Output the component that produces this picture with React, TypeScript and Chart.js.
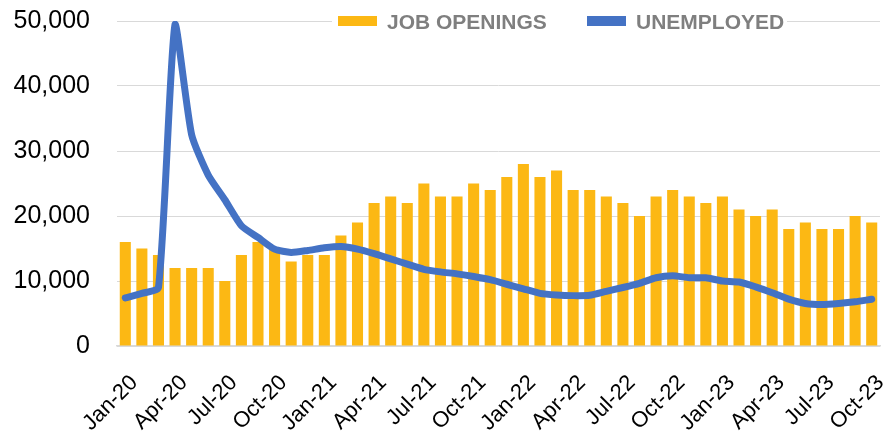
import React, { useEffect, useRef } from 'react';
import { Chart, registerables } from 'chart.js';

Chart.register(...registerables);

const categories = [
  'Jan-20', 'Feb-20', 'Mar-20', 'Apr-20', 'May-20', 'Jun-20', 'Jul-20', 'Aug-20', 'Sep-20', 'Oct-20', 'Nov-20', 'Dec-20',
  'Jan-21', 'Feb-21', 'Mar-21', 'Apr-21', 'May-21', 'Jun-21', 'Jul-21', 'Aug-21', 'Sep-21', 'Oct-21', 'Nov-21', 'Dec-21',
  'Jan-22', 'Feb-22', 'Mar-22', 'Apr-22', 'May-22', 'Jun-22', 'Jul-22', 'Aug-22', 'Sep-22', 'Oct-22', 'Nov-22', 'Dec-22',
  'Jan-23', 'Feb-23', 'Mar-23', 'Apr-23', 'May-23', 'Jun-23', 'Jul-23', 'Aug-23', 'Sep-23', 'Oct-23',
];

const jobOpenings = [
  16000, 15000, 14000, 12000, 12000, 12000, 10000, 14000, 16000, 15000, 13000, 14000,
  14000, 17000, 19000, 22000, 23000, 22000, 25000, 23000, 23000, 25000, 24000, 26000,
  28000, 26000, 27000, 24000, 24000, 23000, 22000, 20000, 23000, 24000, 23000, 22000,
  23000, 21000, 20000, 21000, 18000, 19000, 18000, 18000, 20000, 19000,
];

const unemployed = [
  7400, 8100, 9000, 49500, 32500, 26300, 22500, 18500, 16700, 14900, 14400, 14700,
  15100, 15300, 14900, 14200, 13400, 12600, 11800, 11400, 11100, 10700, 10200, 9500,
  8800, 8100, 7850, 7750, 7800, 8400, 9000, 9650, 10500, 10800, 10500, 10500,
  10000, 9850, 9100, 8200, 7200, 6550, 6400, 6550, 6800, 7200,
];

const yMin = 0;
const yMax = 50000;
const yStep = 10000;

const seriesNames = ['JOB OPENINGS', 'UNEMPLOYED'];
const seriesColors = ['#FCB814', '#4472C4'];

const FONT = '"Liberation Sans", Arial, sans-serif';

const legendPlugin = {
  id: 'topLegend',
  afterDraw(chart: any) {
    const ctx = chart.ctx;
    ctx.save();
    ctx.fillStyle = '#ffffff';
    ctx.fillRect(332, 10, 455, 24);
    const items = [
      { box: 338, text: 387, y: 16 },
      { box: 587, text: 636, y: 16 },
    ];
    ctx.font = `bold 21px ${FONT}`;
    ctx.textBaseline = 'middle';
    ctx.textAlign = 'left';
    items.forEach((it, i) => {
      ctx.fillStyle = seriesColors[i];
      ctx.fillRect(it.box, it.y, 39, 10);
      ctx.fillStyle = '#7F7F7F';
      ctx.fillText(seriesNames[i], it.text, 23);
    });
    ctx.restore();
  },
};

export default function App() {
  const ref = useRef<HTMLCanvasElement>(null);

  useEffect(() => {
    if (!ref.current) return;
    const chart = new Chart(ref.current, {
      type: 'bar',
      data: {
        labels: categories,
        datasets: [
          {
            type: 'line',
            label: seriesNames[1],
            data: unemployed,
            borderColor: seriesColors[1],
            backgroundColor: seriesColors[1],
            borderWidth: 7,
            pointRadius: 0,
            tension: 0.2,
            borderCapStyle: 'round',
            borderJoinStyle: 'round',
            order: 0,
          } as any,
          {
            type: 'bar',
            label: seriesNames[0],
            data: jobOpenings,
            backgroundColor: seriesColors[0],
            categoryPercentage: 1,
            barPercentage: 0.667,
            order: 1,
          } as any,
        ],
      },
      options: {
        responsive: false,
        animation: false,
        layout: { padding: { top: 21, right: 8, left: 0, bottom: 0 } },
        plugins: {
          legend: { display: false },
          tooltip: { enabled: false },
        },
        scales: {
          x: {
            grid: { display: false, drawTicks: false },
            border: { display: true, color: '#D9D9D9', width: 1.5 },
            ticks: {
              autoSkip: false,
              minRotation: 45,
              maxRotation: 45,
              padding: 24,
              labelOffset: 9,
              color: '#000000',
              font: { family: FONT, size: 22 },
              callback: (_v: any, i: number) => (i % 3 === 0 ? categories[i] : ''),
            },
            afterFit: (s: any) => {
              s.height = 88;
              s.paddingLeft = 0;
              s.paddingRight = 0;
              s.paddingTop = 0;
              s.paddingBottom = 0;
            },
          },
          y: {
            min: yMin,
            max: yMax,
            grid: { color: '#D9D9D9', lineWidth: 1, drawTicks: false },
            border: { display: false },
            ticks: {
              stepSize: yStep,
              padding: 27,
              color: '#000000',
              font: { family: FONT, size: 25 },
              callback: (v: any) => Number(v).toLocaleString('en-US'),
            },
            afterFit: (s: any) => {
              s.width = 117;
              s.paddingLeft = 0;
              s.paddingRight = 0;
              s.paddingTop = 0;
              s.paddingBottom = 0;
            },
          },
        },
      },
      plugins: [legendPlugin],
    });
    return () => chart.destroy();
  }, []);

  return (
    <div style={{ position: 'absolute', left: 0, top: 0, width: 888, height: 434, background: '#fff' }}>
      <canvas ref={ref} width={888} height={434} style={{ display: 'block', width: 888, height: 434 }} />
    </div>
  );
}
